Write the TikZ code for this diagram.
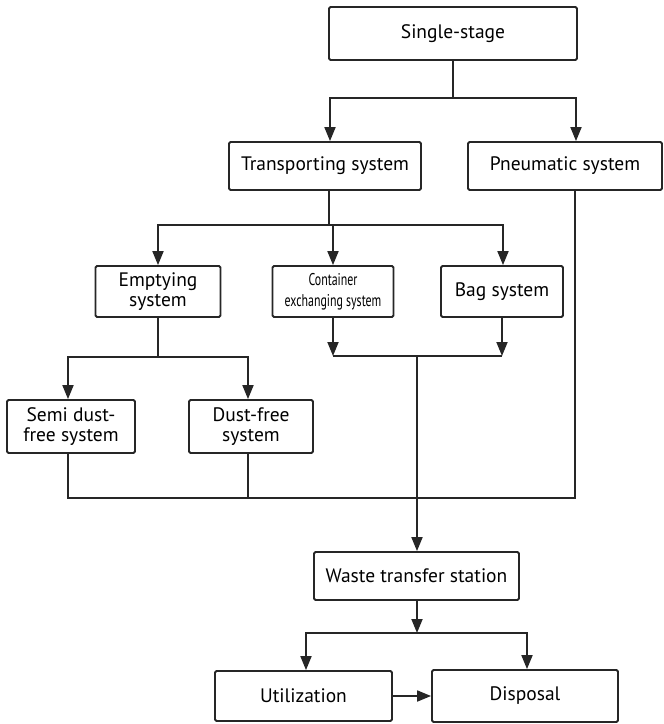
\documentclass[tikz,border=0pt]{standalone}
\usepackage{fontspec}
\setmainfont{PT Sans}
\usetikzlibrary{arrows.meta,calc}
\newcommand{\condensed}[1]{\scalebox{0.7}[1]{\fontsize{17}{18}\selectfont #1}}
\begin{document}
\begin{tikzpicture}[x=1pt,y=-1pt,
  box/.style={draw=black!85, line width=1.8pt, rounded corners=1.5pt,
    inner sep=0pt, align=center, font=\fontsize{19.5}{20.5}\selectfont},
  line/.style={draw=black!85, line width=1.8pt},
  arr/.style={line, -{Triangle[width=11pt,length=14pt]}}]
\useasboundingbox (0,0) rectangle (664,724);

% boxes
\node[box, minimum width=248pt, minimum height=53pt] (single) at (453,33.5) {Single-stage};
\node[box, minimum width=192pt, minimum height=48pt] (transp) at (325,166) {Transporting system};
\node[box, minimum width=194pt, minimum height=48pt] (pneu) at (565,166) {Pneumatic system};
\node[box, minimum width=125pt, minimum height=51pt] (empty) at (158,291.5) {Emptying\\system};
\node[box, minimum width=121pt, minimum height=51pt] (cont) at (333,291.5)
  {\condensed{Container}\\[0pt]\condensed{exchanging system}};
\node[box, minimum width=122pt, minimum height=51pt] (bag) at (502,291.5) {Bag system};
\node[box, minimum width=128pt, minimum height=53pt] (semi) at (71,426.5) {Semi dust-\\free system};
\node[box, minimum width=124pt, minimum height=53pt] (dust) at (251,426.5) {Dust-free\\system};
\node[box, minimum width=205pt, minimum height=48pt] (waste) at (416.5,576) {Waste transfer station};
\node[box, minimum width=177pt, minimum height=50pt] (util) at (303.5,696) {Utilization};
\node[box, minimum width=186pt, minimum height=52pt] (disp) at (525,696) {Disposal};

% junction points
\coordinate (j1) at (453,98);
\coordinate (j2) at (329,225);
\coordinate (j3) at (158,357);
\coordinate (j4) at (417,356);
\coordinate (j5) at (417,498);
\coordinate (j6) at (417,633);

% single-stage branches
\draw[line] (single.south) -- (j1);
\draw[arr] (j1) -| ([xshift=5pt]transp.north);
\draw[arr] (j1) -| ([xshift=11pt]pneu.north);

% transporting system branches
\draw[line] ([xshift=4pt]transp.south) -- (j2);
\draw[arr] (j2) -| (empty.north);
\draw[arr] (j2) -| (cont.north);
\draw[arr] (j2) -| ([xshift=1pt]bag.north);

% emptying system branches
\draw[line] (empty.south) -- (j3);
\draw[arr] (j3) -| ([xshift=-3pt]semi.north);
\draw[arr] (j3) -| ([xshift=-3pt]dust.north);

% container and bag systems merge
\draw[arr] (cont.south) -- (cont.south |- j4);
\draw[arr] (bag.south) -- (bag.south |- j4);
\draw[line] (cont.south |- j4) -- (bag.south |- j4);
\draw[arr] (j4) -- (waste.north -| j4);

% dust systems and pneumatic system merge
\draw[line] ([xshift=-3pt]semi.south) |- (j5);
\draw[line] ([xshift=-3pt]dust.south) -- ([xshift=-3pt]dust.south |- j5);
\draw[line] ([xshift=10pt]pneu.south) |- (j5);

% transfer station outputs
\draw[arr] (waste.south -| j6) -- (j6);
\draw[arr] (j6) -| ([xshift=2.5pt]util.north);
\draw[arr] (j6) -| ([xshift=2pt]disp.north);
\draw[arr] (util.east) -- (disp.west);
\end{tikzpicture}
\end{document}
